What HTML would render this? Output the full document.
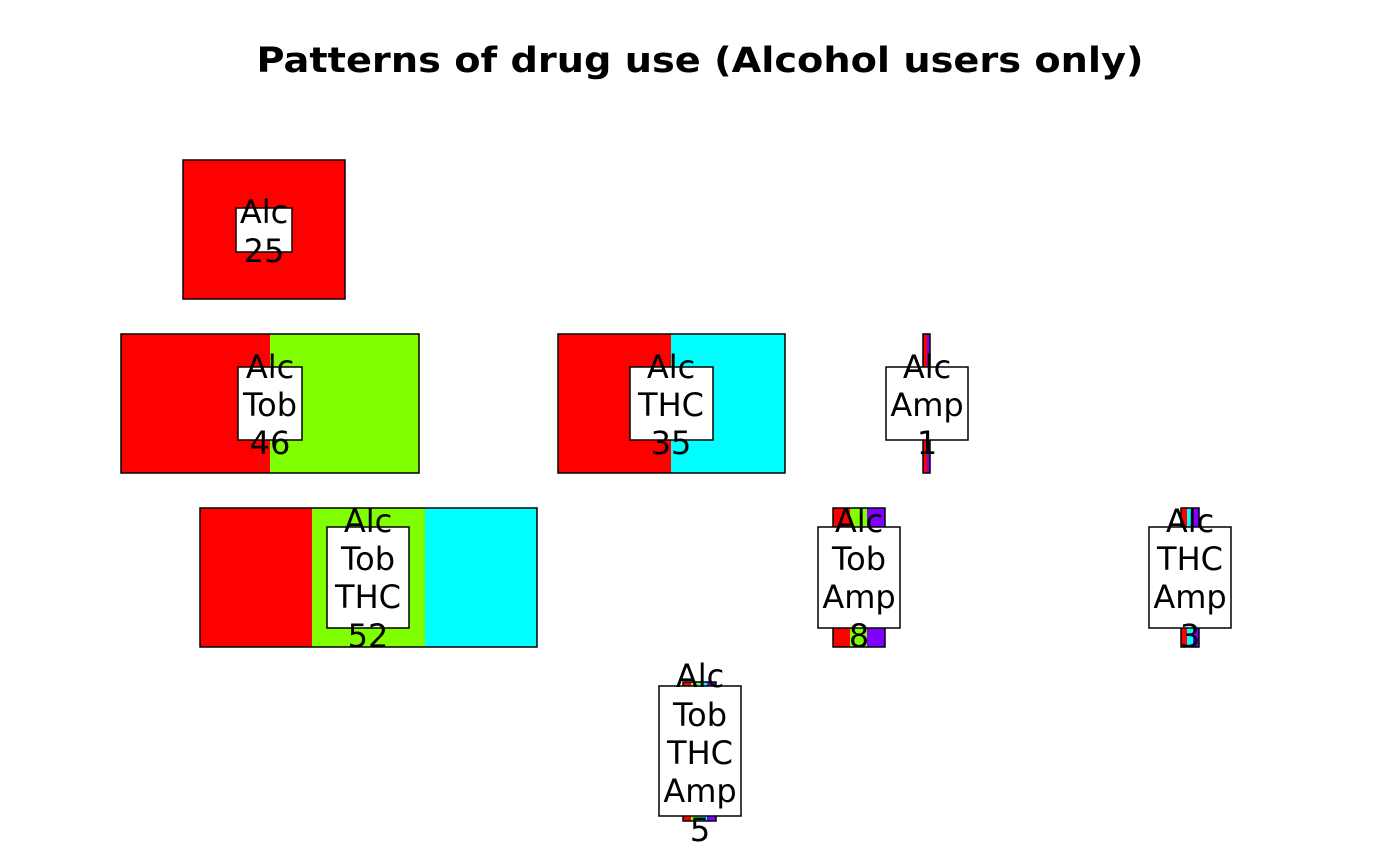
<!DOCTYPE html>
<html><head><meta charset="utf-8"><style>
html,body{margin:0;padding:0;background:#fff;}
svg{display:block;}
text{font-family:"DejaVu Sans","Liberation Sans",sans-serif;}
</style></head><body>
<svg width="1400" height="866" viewBox="0 0 1400 866" xmlns="http://www.w3.org/2000/svg">
<rect width="1400" height="866" fill="#fff"/>
<text x="700" y="72" text-anchor="middle" font-weight="bold" font-size="35" textLength="887" lengthAdjust="spacingAndGlyphs">Patterns of drug use (Alcohol users only)</text>
<g stroke="none">
<rect x="183" y="160" width="162" height="139" fill="#FF0000"/>
<rect x="121" y="334" width="149" height="139" fill="#FF0000"/>
<rect x="270" y="334" width="149" height="139" fill="#80FF00"/>
<rect x="558" y="334" width="113" height="139" fill="#FF0000"/>
<rect x="671" y="334" width="114" height="139" fill="#00FFFF"/>
<rect x="923" y="334" width="4" height="139" fill="#FF0000"/>
<rect x="927" y="334" width="3" height="139" fill="#8000FF"/>
<rect x="200" y="508" width="112" height="139" fill="#FF0000"/>
<rect x="312" y="508" width="113" height="139" fill="#80FF00"/>
<rect x="425" y="508" width="112" height="139" fill="#00FFFF"/>
<rect x="833" y="508" width="17" height="139" fill="#FF0000"/>
<rect x="850" y="508" width="17" height="139" fill="#80FF00"/>
<rect x="867" y="508" width="18" height="139" fill="#8000FF"/>
<rect x="1181" y="508" width="6" height="139" fill="#FF0000"/>
<rect x="1187" y="508" width="6" height="139" fill="#00FFFF"/>
<rect x="1193" y="508" width="6" height="139" fill="#8000FF"/>
<rect x="683" y="682" width="8" height="139" fill="#FF0000"/>
<rect x="691" y="682" width="8" height="139" fill="#80FF00"/>
<rect x="699" y="682" width="8" height="139" fill="#00FFFF"/>
<rect x="707" y="682" width="9" height="139" fill="#8000FF"/>
</g>
<g fill="none" stroke="#000" stroke-width="1.5">
<rect x="183" y="160" width="162" height="139"/>
<rect x="121" y="334" width="298" height="139"/>
<rect x="558" y="334" width="227" height="139"/>
<rect x="923" y="334" width="7" height="139"/>
<rect x="200" y="508" width="337" height="139"/>
<rect x="833" y="508" width="52" height="139"/>
<rect x="1181" y="508" width="18" height="139"/>
<rect x="683" y="682" width="33" height="139"/>
</g>
<g fill="#fff" stroke="#000" stroke-width="1.5">
<rect x="236" y="208" width="56" height="44"/>
<rect x="238" y="367" width="64" height="73"/>
<rect x="630" y="367" width="83" height="73"/>
<rect x="886" y="367" width="82" height="73"/>
<rect x="327" y="527" width="82" height="101"/>
<rect x="818" y="527" width="82" height="101"/>
<rect x="1149" y="527" width="82" height="101"/>
<rect x="659" y="686" width="82" height="130"/>
</g>
<g font-size="32" text-anchor="middle" fill="#000">
<text x="264" y="223">Alc</text><text x="264" y="262">25</text>
<text x="270" y="378">Alc</text><text x="270" y="416">Tob</text><text x="270" y="454">46</text>
<text x="671" y="378">Alc</text><text x="671" y="416">THC</text><text x="671" y="454">35</text>
<text x="927" y="378">Alc</text><text x="927" y="416">Amp</text><text x="927" y="454">1</text>
<text x="368" y="532">Alc</text><text x="368" y="570">Tob</text><text x="368" y="608">THC</text><text x="368" y="647">52</text>
<text x="859" y="532">Alc</text><text x="859" y="570">Tob</text><text x="859" y="608">Amp</text><text x="859" y="647">8</text>
<text x="1190" y="532">Alc</text><text x="1190" y="570">THC</text><text x="1190" y="608">Amp</text><text x="1190" y="647">3</text>
<text x="700" y="687">Alc</text><text x="700" y="726">Tob</text><text x="700" y="764">THC</text><text x="700" y="802">Amp</text><text x="700" y="841">5</text>
</g>
</svg>
</body></html>
